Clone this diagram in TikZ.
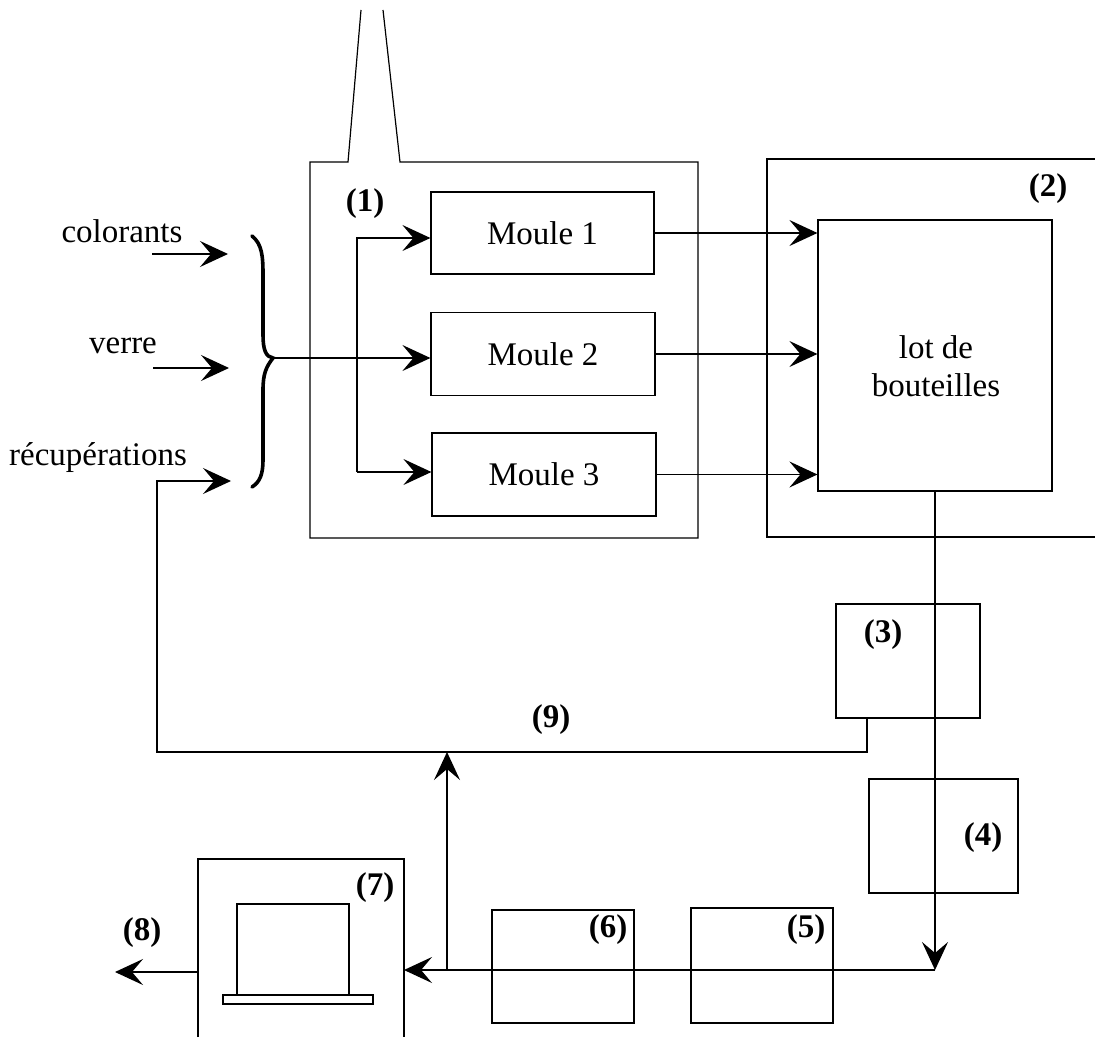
\documentclass[tikz,border=0pt]{standalone}
\usepackage{fontspec}
\setmainfont{Liberation Serif}
\usetikzlibrary{arrows.meta}
\begin{document}
\begin{tikzpicture}[x=0.5pt,y=-0.5pt,
  line width=0.6pt,
  every node/.style={font=\fontsize{16.5}{19}\selectfont},
  box/.style={draw, rectangle, inner sep=0pt},
  lbl/.style={font=\fontsize{16.5}{19}\selectfont\bfseries, inner sep=0pt},
  txt/.style={inner sep=0pt},
  arr/.style={-{Stealth[length=14pt,width=13pt,inset=5.5pt]}}
]
\useasboundingbox (0,0) rectangle (1095,1037);

% box (1) with chimney (open at the top)
\draw (361,10) -- (348,162) -- (310,162) -- (310,538) -- (698,538) -- (698,162) -- (400,162) -- (383,10);
% box (2), open on the right
\draw (1095,159) -- (767,159) -- (767,537) -- (1095,537);
% box (7), open at the bottom
\draw (198,1037) -- (198,859) -- (404,859) -- (404,1037);
\draw (237,995) -- (237,904) -- (349,904) -- (349,995);
\draw (223,995) rectangle (373,1004);

% nodes
\node[box, minimum width=111.5pt, minimum height=41pt] (m1) at (542.5,233) {Moule 1};
\node[box, minimum width=112pt, minimum height=41.5pt] (m2) at (543,354) {Moule 2};
\node[box, minimum width=112pt, minimum height=41.5pt] (m3) at (544,474.5) {Moule 3};
\node[box, minimum width=117pt, minimum height=135.5pt] (lot) at (935,355.5) {};
\node[txt, align=center] (lottxt) at (936,366) {lot de\\bouteilles};
\node[box, minimum width=72pt, minimum height=57pt] (b3) at (908,661) {};
\node[box, minimum width=74.5pt, minimum height=57pt] (b4) at (943.5,836) {};
\node[box, minimum width=71pt, minimum height=57.5pt] (b5) at (762,965.5) {};
\node[box, minimum width=71pt, minimum height=56.5pt] (b6) at (563,966.5) {};

% labels
\node[lbl] (l1) at (365,204) {(1)};
\node[lbl] (l2) at (1048,189) {(2)};
\node[lbl] (l3) at (883,635) {(3)};
\node[lbl] (l4) at (983,838) {(4)};
\node[lbl] (l5) at (806,930) {(5)};
\node[lbl] (l6) at (608,930) {(6)};
\node[lbl] (l7) at (375,888) {(7)};
\node[lbl] (l8) at (142,933) {(8)};
\node[lbl] (l9) at (551,720) {(9)};

\node[txt] (tcol) at (122,231) {colorants};
\node[txt] (tver) at (123,346) {verre};
\node[txt] (trec) at (98,458) {récupérations};

% coordinates
\coordinate (colA) at (152,254);
\coordinate (colB) at (228,254);
\coordinate (verA) at (153,368);
\coordinate (verB) at (229,368);
\coordinate (recB) at (231,481);
\coordinate (recC) at (157,481);
\coordinate (recD) at (157,752);
\coordinate (b3c) at (867,752);
\coordinate (tip) at (273,358);
\coordinate (split1) at (357,238);
\coordinate (split3) at (357,472);
\coordinate (corner) at (935,970);
\coordinate (b7e) at (404,970);
\coordinate (b7w) at (198,972);
\coordinate (out8) at (115,972);
\coordinate (upA) at (447,970);
\coordinate (upB) at (447,752);

% brace
\draw[line width=1.8pt, line cap=round] (252,236) .. controls (262,244) and (263,256) .. (263,275)
  -- (263,335) .. controls (263,350) and (266,357) .. (tip)
  .. controls (266,367) and (263,374) .. (263,390)
  -- (263,460) .. controls (263,474) and (260,482) .. (252,487);

% inputs
\draw[arr] (colA) -- (colB);
\draw[arr] (verA) -- (verB);
\draw[arr] (b3.south -| b3c) -- (b3c) -- (recD) -- (recC) -- (recB);

% distribution to moulds
\draw[arr] (tip) -- (tip -| m2.west);
\draw[arr] (split3) -- (split1) -- (split1 -| m1.west);
\draw[arr] (split3) -- (split3 -| m3.west);

% moulds to lot
\draw[arr] (m1.east) -- (m1.east -| lot.west);
\draw[arr] (m2.east) -- (m2.east -| lot.west);
\draw[arr] (m3.east) -- (m3.east -| lot.west);

% main flow
\draw[arr] (lot.south) -- (corner);
\draw[arr] (corner) -- (b7e);
\draw[arr] (upA) -- (upB);
\draw[arr] (b7w) -- (out8);
\end{tikzpicture}
\end{document}
